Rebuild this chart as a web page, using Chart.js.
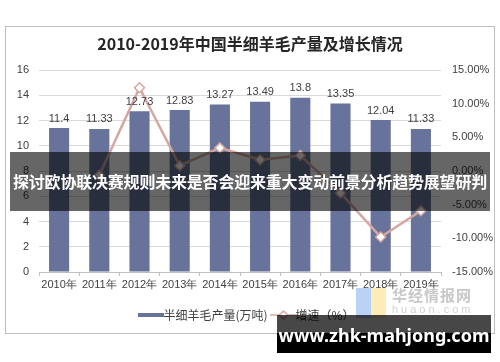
<!DOCTYPE html>
<html>
<head>
<meta charset="utf-8">
<script src="https://cdn.jsdelivr.net/npm/chart.js@4/dist/chart.umd.min.js"></script>
<style>
  html, body { margin: 0; padding: 0; background: #fff; }
  #wrap { position: relative; width: 500px; height: 362px; overflow: hidden; }
  #frame { position: absolute; left: 5px; top: 26px; width: 488px; height: 306px; border: 1px solid #bfbfbf; }
  #banner { position: absolute; left: 10px; top: 152px; width: 480px; height: 59px; background: rgba(0,0,0,0.6);
            color: #fff; font: bold 16px "Noto Sans CJK SC", sans-serif; line-height: 59px; text-align: center; white-space: nowrap; letter-spacing: -0.2px; }
  #logo { position: absolute; left: 356px; top: 288px; width: 30px; height: 30px; background: linear-gradient(90deg, #a9c8f2 50%, #fbe9a6 50%); opacity: 0.8; }
  #logotext { position: absolute; left: 392px; top: 284px; color: #c8c8c8; font: bold 15px "Noto Sans CJK SC", sans-serif; letter-spacing: 1px; }
  #logourl { position: absolute; left: 392px; top: 303px; color: #d0d0d0; font: 11px "Liberation Sans", sans-serif; letter-spacing: 3px; }
  #mark { position: absolute; left: 277px; top: 315px; width: 214px; height: 38px;
          background: linear-gradient(180deg, rgba(0,0,0,0.72) 0, rgba(0,0,0,0.72) 18px, #000 18px);
          color: #fff; font: bold 18px "Noto Sans", sans-serif; line-height: 40px; text-align: center; white-space: nowrap; }
  canvas { position: absolute; left: 0; top: 0; }
</style>
</head>
<body>
<div id="wrap">
  <div id="frame"></div>
  <canvas id="chanliang" width="500" height="362"></canvas>
  <div id="logo"></div>
  <div id="logotext">华经情报网</div>
  <div id="logourl">huaon.com</div>
  <div id="banner">探讨欧协联决赛规则未来是否会迎来重大变动前景分析趋势展望研判</div>
  <div id="mark">www.zhk-mahjong.com</div>
</div>
<script>
const godine = ['2010年', '2011年', '2012年', '2013年', '2014年', '2015年', '2016年', '2017年', '2018年', '2019年'];
const proizvodnja = [11.4, 11.33, 12.73, 12.83, 13.27, 13.49, 13.8, 13.35, 12.04, 11.33];
const rast = [null, -0.61, 12.36, 0.79, 3.43, 1.66, 2.30, -3.26, -9.81, -5.90];

const bojaStubova = '#67739a';
const bojaLinije = '#d5a7a1';

// legend icons
function ikonaStub() {
    const c = document.createElement('canvas');
    c.width = 26; c.height = 6;
    const g = c.getContext('2d');
    g.fillStyle = bojaStubova;
    g.fillRect(0, 1, 26, 4);
    return c;
}
function ikonaLinija() {
    const c = document.createElement('canvas');
    c.width = 28; c.height = 10;
    const g = c.getContext('2d');
    g.strokeStyle = bojaLinije;
    g.lineWidth = 1.5;
    g.beginPath(); g.moveTo(0, 5); g.lineTo(28, 5); g.stroke();
    g.fillStyle = '#fff';
    g.beginPath(); g.moveTo(14, 1); g.lineTo(18, 5); g.lineTo(14, 9); g.lineTo(10, 5); g.closePath();
    g.fill(); g.stroke();
    return c;
}

const oznakeVrijednosti = {
    id: 'oznakeVrijednosti',
    afterDatasetsDraw(chart) {
        const ctx = chart.ctx;
        const meta = chart.getDatasetMeta(1);
        ctx.save();
        ctx.font = '11px "Liberation Sans", Arial, sans-serif';
        ctx.fillStyle = '#404040';
        ctx.textAlign = 'center';
        ctx.textBaseline = 'bottom';
        meta.data.forEach((bar, i) => {
            ctx.fillText(String(proizvodnja[i]), bar.x, bar.y - 4);
        });
        ctx.restore();
    }
};

const el = document.querySelector('#chanliang');

new Chart(el, {
    data: {
        labels: godine,
        datasets: [
            {
                type: 'line',
                label: '增速（%）',
                data: rast,
                yAxisID: 'y1',
                borderColor: bojaLinije,
                borderWidth: 2.5,
                pointStyle: 'rectRot',
                pointRadius: 5,
                pointBackgroundColor: '#fff',
                pointBorderColor: bojaLinije,
                pointBorderWidth: 1.5,
                tension: 0,
                order: 1
            },
            {
                type: 'bar',
                label: '半细羊毛产量(万吨)',
                data: proizvodnja,
                yAxisID: 'y',
                backgroundColor: bojaStubova,
                barPercentage: 0.5,
                categoryPercentage: 1,
                order: 2
            }
        ]
    },
    options: {
        responsive: false,
        animation: false,
        layout: { padding: { left: 0, right: 0, top: 0, bottom: 31 } },
        scales: {
            x: {
                offset: true,
                grid: { display: true, drawOnChartArea: false, offset: true, tickLength: 4, color: '#bfbfbf' },
                border: { color: '#bfbfbf' },
                ticks: { color: '#404040', font: { size: 11, family: '"Liberation Sans", Arial, sans-serif' }, padding: 2, maxRotation: 0, autoSkip: false },
                afterFit(s) { s.height = 27; }
            },
            y: {
                position: 'left',
                min: 0, max: 16,
                ticks: { stepSize: 2, color: '#404040', font: { size: 11, family: '"Liberation Sans", Arial, sans-serif' }, padding: 10 },
                grid: { color: '#d9d9d9', drawTicks: false },
                border: { display: false },
                afterFit(s) { s.width = 39; }
            },
            y1: {
                position: 'right',
                min: -15, max: 15,
                ticks: { stepSize: 5, color: '#404040', font: { size: 11, family: '"Liberation Sans", Arial, sans-serif' }, padding: 11,
                         callback: v => v.toFixed(2) + '%' },
                grid: { display: false, drawTicks: false },
                border: { display: false },
                afterFit(s) { s.width = 59; }
            }
        },
        plugins: {
            title: {
                display: true,
                text: '2010-2019年中国半细羊毛产量及增长情况',
                color: '#262626',
                font: { size: 16, weight: 'bold', family: '"Noto Sans CJK SC", sans-serif', lineHeight: 1.2 },
                padding: { top: 34, bottom: 16.8 }
            },
            legend: {
                position: 'bottom',
                labels: {
                    usePointStyle: true,
                    color: '#404040',
                    font: { size: 12, family: '"Noto Sans CJK SC", sans-serif' },
                    padding: 10,
                    generateLabels() {
                        return [
                            { text: '半细羊毛产量(万吨)', pointStyle: ikonaStub(), fillStyle: bojaStubova, strokeStyle: bojaStubova, lineWidth: 0, datasetIndex: 1, fontColor: '#404040' },
                            { text: '增速（%）', pointStyle: ikonaLinija(), fillStyle: '#fff', strokeStyle: bojaLinije, lineWidth: 0, datasetIndex: 0, fontColor: '#404040' }
                        ];
                    }
                }
            },
            tooltip: { enabled: false }
        }
    },
    plugins: [oznakeVrijednosti]
});
</script>
</body>
</html>
